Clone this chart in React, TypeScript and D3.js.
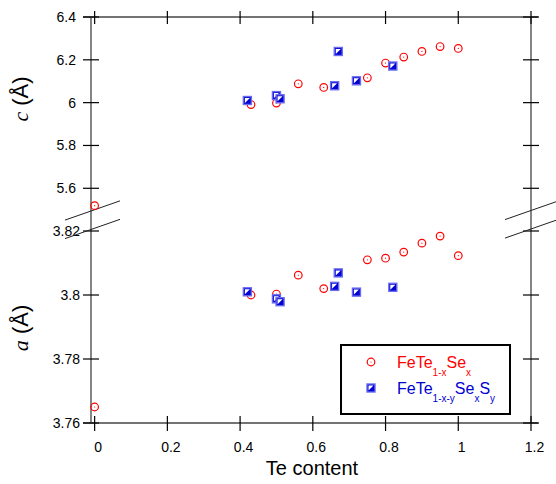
import React, { useEffect, useRef } from 'react';
import * as d3 from 'd3';

// FeTe(1-x)Se(x)
const seTe = [0, 0.43, 0.5, 0.56, 0.63, 0.75, 0.8, 0.85, 0.9, 0.95, 1.0];
const seC = [5.519, 5.991, 5.998, 6.088, 6.071, 6.116, 6.185, 6.213, 6.239, 6.262, 6.253];
const seA = [3.765, 3.8, 3.8003, 3.8062, 3.802, 3.811, 3.8115, 3.8134, 3.8162, 3.8184, 3.8123];

// FeTe(1-x-y)Se(x)S(y)
const sTe = [0.42, 0.5, 0.51, 0.66, 0.67, 0.72, 0.82];
const sC = [6.01, 6.033, 6.018, 6.079, 6.239, 6.102, 6.171];
const sA = [3.801, 3.7988, 3.7979, 3.8027, 3.8069, 3.8009, 3.8024];

// ticks
const xTicks = [0, 0.2, 0.4, 0.6, 0.8, 1, 1.2];
const cTicks = [5.6, 5.8, 6, 6.2, 6.4];
const aTicks = [3.76, 3.78, 3.8, 3.82];

const FONT = "'Liberation Sans', Arial, sans-serif";
const SERIF = "'Liberation Serif', 'Times New Roman', serif";
const RED = '#ff0000';
const BLUE = '#0000d0';

function LatticeChart() {
    const svgRef = useRef(null);
    const width = 556;
    const height = 484;

    useEffect(() => {
        const svg = d3.select(svgRef.current);
        svg.selectAll('*').remove();

        const left = 91, right = 531, top = 17, bottom = 423;

        const x = d3.scaleLinear().domain([-0.01, 1.2]).range([left, right]);
        // upper panel: c, lower panel: a
        const yC = d3.scaleLinear().domain([5.5, 6.4]).range([209.7, top]);
        const yA = d3.scaleLinear().domain([3.76, 3.82]).range([bottom, 231]);

        // frame
        const frame = svg.append('g').attr('stroke', '#444').attr('stroke-width', 1.3);
        frame.append('line').attr('x1', left).attr('x2', left).attr('y1', top).attr('y2', bottom);
        frame.append('line').attr('x1', right).attr('x2', right).attr('y1', top).attr('y2', bottom);
        frame.append('line').attr('x1', left - 8).attr('x2', right + 7).attr('y1', top).attr('y2', top);
        frame.append('line').attr('x1', left - 8).attr('x2', right + 7).attr('y1', bottom).attr('y2', bottom);

        // ticks
        const ticks = svg.append('g').attr('stroke', '#000').attr('stroke-width', 1.2);
        xTicks.forEach((t) => {
            ticks.append('line').attr('x1', x(t)).attr('x2', x(t)).attr('y1', top - 6).attr('y2', top + 7);
            ticks.append('line').attr('x1', x(t)).attr('x2', x(t)).attr('y1', bottom - 7).attr('y2', bottom + 8);
        });
        const yTickPos = cTicks.map((t) => yC(t)).concat(aTicks.map((t) => yA(t)));
        yTickPos.forEach((py) => {
            ticks.append('line').attr('x1', left - 8).attr('x2', left + 8).attr('y1', py).attr('y2', py);
            ticks.append('line').attr('x1', right - 8).attr('x2', right + 8).attr('y1', py).attr('y2', py);
        });

        // tick labels
        const labels = svg.append('g').style('font-family', FONT).style('font-size', '14px').attr('fill', '#000');
        xTicks.forEach((t) => {
            labels.append('text').attr('x', x(t) + 3.5).attr('y', 452)
                .attr('text-anchor', 'middle').text(d3.format('')(t));
        });
        cTicks.forEach((t) => {
            labels.append('text').attr('x', 76).attr('y', yC(t) + 5)
                .attr('text-anchor', 'end').text(d3.format('')(t));
        });
        aTicks.forEach((t) => {
            labels.append('text').attr('x', 80).attr('y', yA(t) + 5)
                .attr('text-anchor', 'end').text(d3.format('')(t));
        });

        // axis break marks
        const brk = svg.append('g').attr('stroke', '#222').attr('stroke-width', 1);
        const slope = -0.35;
        [[left, 211], [left, 229.5], [right, 210.5], [right, 229]].forEach(([cx, cy]) => {
            brk.append('line')
                .attr('x1', cx - 26).attr('y1', cy - 26 * slope)
                .attr('x2', cx + 29).attr('y2', cy + 29 * slope);
        });

        // axis titles
        const title = svg.append('g').style('font-family', FONT).attr('fill', '#000');
        title.append('text').attr('x', 312).attr('y', 475).attr('text-anchor', 'middle')
            .style('font-size', '20px').text('Te content');

        const yTitle = (cx, cy, sym) => {
            const t = title.append('text')
                .attr('transform', `translate(${cx},${cy}) rotate(-90)`)
                .attr('text-anchor', 'middle').style('font-size', '22px');
            t.append('tspan').style('font-family', SERIF).style('font-style', 'italic').text(sym);
            t.append('tspan').text(' (Å)');
        };
        yTitle(28, 99, 'c');
        yTitle(28, 328, 'a');

        // markers
        const circle = (g, cx, cy) => {
            g.append('circle').attr('cx', cx).attr('cy', cy).attr('r', 3.8)
                .attr('fill', 'none').attr('stroke', RED).attr('stroke-width', 1.2);
            g.append('circle').attr('cx', cx).attr('cy', cy).attr('r', 0.6).attr('fill', RED);
        };
        const square = (g, cx, cy) => {
            const s = 4;
            const i = s - 1.5;
            g.append('rect').attr('x', cx - s).attr('y', cy - s).attr('width', 2 * s).attr('height', 2 * s)
                .attr('fill', BLUE).attr('stroke', '#6a6af0').attr('stroke-width', 1.4);
            g.append('path')
                .attr('d', `M${cx + i},${cy - i} L${cx - i},${cy - i} L${cx - i},${cy + i}Z`)
                .attr('fill', '#fff');
        };

        const pts = svg.append('g');
        seTe.forEach((t, i) => {
            circle(pts, x(t), yC(seC[i]));
            circle(pts, x(t), yA(seA[i]));
        });
        sTe.forEach((t, i) => {
            square(pts, x(t), yC(sC[i]));
            square(pts, x(t), yA(sA[i]));
        });

        // legend
        const lg = svg.append('g');
        lg.append('rect').attr('x', 341).attr('y', 345).attr('width', 169).attr('height', 69)
            .attr('fill', '#fff').attr('stroke', '#000').attr('stroke-width', 2);
        circle(lg, 371, 362);
        square(lg, 371, 388);

        const legendText = (ty, color, parts) => {
            const t = lg.append('text').attr('x', 397).attr('y', ty)
                .style('font-family', FONT).attr('fill', color);
            let sub = false;
            parts.forEach(([s, isSub]) => {
                const sp = t.append('tspan').text(s).style('font-size', isSub ? '10px' : '16px');
                if (isSub && !sub) sp.attr('dy', 8);
                if (!isSub && sub) sp.attr('dy', -8);
                sub = isSub;
            });
        };
        legendText(368, RED, [['FeTe', false], ['1-x', true], ['Se', false], ['x', true]]);
        legendText(394, BLUE, [['FeTe', false], ['1-x-y', true], ['Se', false], ['x', true], ['S', false], ['y', true]]);
    }, []);

    return (
        <svg ref={svgRef} width={width} height={height}
            style={{ position: 'absolute', left: 0, top: 0, background: '#fff' }}></svg>
    );
}

export default function App() {
    return <LatticeChart />;
}
